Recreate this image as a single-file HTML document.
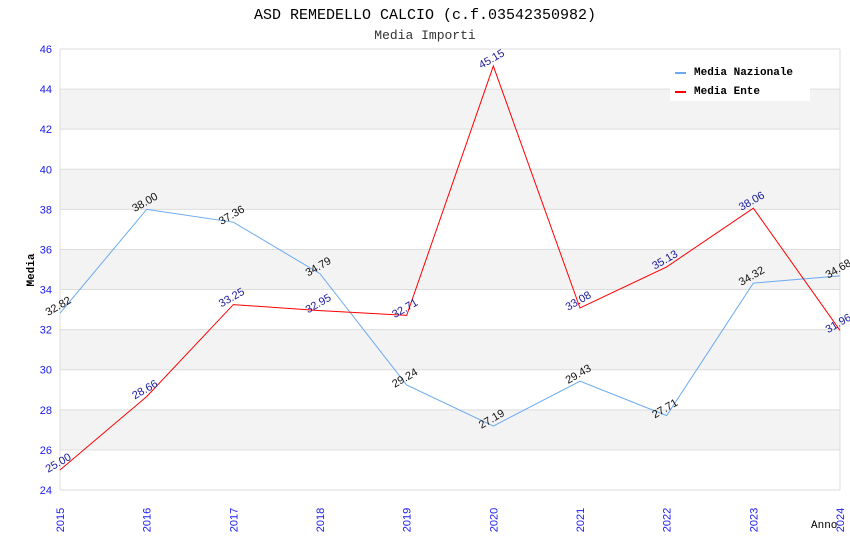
<!DOCTYPE html>
<html><head><meta charset="utf-8"><style>body{margin:0;background:#fff}svg{display:block}</style></head>
<body>
<svg id="c" width="850" height="550" xmlns="http://www.w3.org/2000/svg">
<text x="425" y="19" text-anchor="middle" font-family="Liberation Mono, monospace" font-size="15">ASD REMEDELLO CALCIO (c.f.03542350982)</text>
<text x="425" y="39" text-anchor="middle" font-family="Liberation Mono, monospace" font-size="13" fill="#333">Media Importi</text>
<g id="plot"></g>
<text x="34" y="270" transform="rotate(-90 34 270)" text-anchor="middle" font-family="Liberation Mono, monospace" font-size="11" font-weight="bold">Media</text>
<text x="811" y="528" font-family="Liberation Mono, monospace" font-size="11">Anno</text>
<g>
<rect x="670" y="59" width="140" height="42" fill="#fff"/>
<line x1="675" y1="73" x2="686" y2="73" stroke="#6aaaf0" stroke-width="2"/>
<text x="694" y="75" font-family="Liberation Mono, monospace" font-size="11" font-weight="bold">Media Nazionale</text>
<line x1="675" y1="92" x2="686" y2="92" stroke="red" stroke-width="2"/>
<text x="694" y="94" font-family="Liberation Mono, monospace" font-size="11" font-weight="bold">Media Ente</text>
</g>
</svg>
<script>
const years=[2015,2016,2017,2018,2019,2020,2021,2022,2023,2024];
const nazionale=[32.82,38.00,37.36,34.79,29.24,27.19,29.43,27.71,34.32,34.68];
const ente=[25.00,28.66,33.25,32.95,32.71,45.15,33.08,35.13,38.06,31.96];
const yTicks=[24,26,28,30,32,34,36,38,40,42,44,46];
const NS='http://www.w3.org/2000/svg';
const x0=60,x1=840,yT=49,yB=490,yMin=24,yMax=46;
const X=i=>x0+(x1-x0)*i/(years.length-1);
const Y=v=>yB-(v-yMin)/(yMax-yMin)*(yB-yT);
const g=document.getElementById('plot');
function mk(t,a,p){const e=document.createElementNS(NS,t);for(const k in a)e.setAttribute(k,a[k]);(p||g).appendChild(e);return e;}
for(let i=0;i<yTicks.length-1;i++){
 if(i%2===1){const b=mk('rect',{x:x0,y:Y(yTicks[i+1]),width:x1-x0,height:Y(yTicks[i])-Y(yTicks[i+1]),fill:'#f3f3f3'});
 
 }
}
yTicks.forEach(v=>{
 const l=mk('line',{x1:x0,x2:x1,y1:Y(v),y2:Y(v),stroke:'#ddd'});
 
 
 const t=mk('text',{x:52,y:Y(v)+4,'text-anchor':'end','font-family':'Liberation Sans, sans-serif','font-size':11,fill:'#1a1aee'});
 t.textContent=v;
 
 
});
mk('line',{x1:x0,x2:x0,y1:yT,y2:yB,stroke:'#ddd'});
mk('line',{x1:x1,x2:x1,y1:yT,y2:yB,stroke:'#ddd'});
years.forEach((yr,i)=>{
 const x=X(i),y=yB+30;
 const t=mk('text',{x:x+4,y:y,transform:`rotate(-90 ${x+4} ${y})`,'text-anchor':'middle','font-family':'Liberation Sans, sans-serif','font-size':11,fill:'#1a1aee'});
 t.textContent=yr;
 
 
});
function series(vals,color,lab,name){
 const p=mk('polyline',{points:vals.map((v,i)=>X(i)+','+Y(v)).join(' '),fill:'none',stroke:color,'stroke-width':1});
 
 
 vals.forEach((v,i)=>{
  const x=X(i),y=Y(v)-4;
  const t=mk('text',{x:x,y:y,transform:`rotate(-30 ${x} ${y})`,'text-anchor':'middle','font-family':'Liberation Sans, sans-serif','font-size':11,fill:lab});
  t.textContent=v.toFixed(2);
  
  
 });
}
series(nazionale,'#6aaaf0','#111','nazionale');
series(ente,'red','#1a1a9a','ente');
</script>
</body></html>
